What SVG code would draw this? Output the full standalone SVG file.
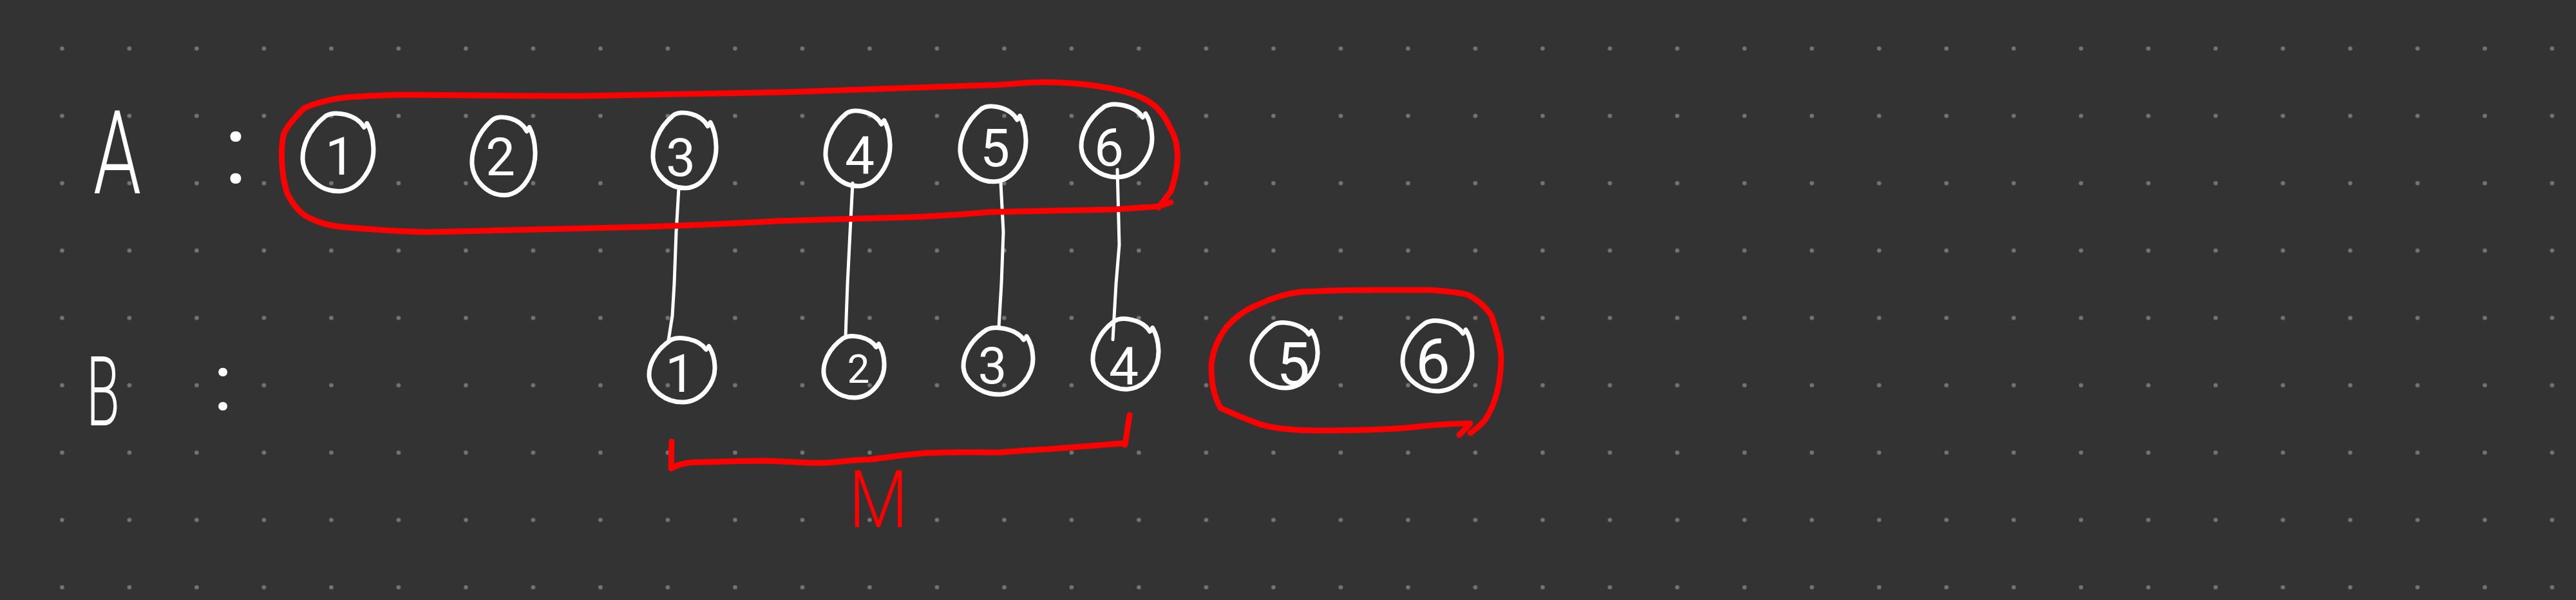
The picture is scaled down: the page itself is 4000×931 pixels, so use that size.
<svg xmlns="http://www.w3.org/2000/svg" xmlns:xlink="http://www.w3.org/1999/xlink" width="4000" height="931" viewBox="0 0 4000 931">
<style>
.bg{fill:#333333}
.node{fill:none;stroke:#ffffff;stroke-width:7;stroke-linecap:round;stroke-linejoin:round}
.lbl{fill:#ffffff;font-family:Roboto,"Liberation Sans",sans-serif;font-weight:400;text-anchor:middle}
.thin{font-weight:300}
.conn{fill:none;stroke:#ffffff;stroke-width:5;stroke-linecap:round;stroke-linejoin:round}
.red{fill:none;stroke:#ff0000;stroke-width:9;stroke-linecap:round;stroke-linejoin:round}
.redtxt{fill:#ff0000;font-family:Roboto,"Liberation Sans",sans-serif;font-weight:300;text-anchor:middle}
</style>
<defs>
<pattern id="grid" patternUnits="userSpaceOnUse" x="44.15" y="23.05" width="104.5" height="104.5">
<circle cx="52.25" cy="52.25" r="3.3" fill="#747474"/>
</pattern>
<path id="egg" vector-effect="non-scaling-stroke" d="M 0.72 -0.62 C 0.5 -0.95 -0.1 -1.05 -0.35 -0.9 C -0.85 -0.55 -1.0 -0.1 -0.98 0.2 C -0.95 0.6 -0.5 1.0 0.05 0.98 C 0.6 0.95 1.0 0.4 0.98 -0.1 C 0.97 -0.4 0.88 -0.6 0.8 -0.72"/>
</defs>
<rect class="bg" x="0" y="0" width="4000" height="931"/>
<rect x="0" y="0" width="4000" height="931" fill="url(#grid)"/>

<g id="labels">
<text class="lbl thin" x="182" y="300" font-size="180" textLength="74" lengthAdjust="spacingAndGlyphs">A</text>
<text class="lbl" x="366" y="284" font-size="150">:</text>
<text class="lbl thin" x="160" y="660" font-size="150" textLength="52" lengthAdjust="spacingAndGlyphs">B</text>
<text class="lbl" x="346" y="636" font-size="122">:</text>
</g>

<g id="connectors">
<path class="conn" d="M1054 292 L1050 360 L1047 440 L1044 490 L1038 528"/>
<path class="conn" d="M1324 284 L1320 360 L1316 440 L1313 522"/>
<path class="conn" d="M1554 284 L1558 360 L1555 440 L1551 507"/>
<path class="conn" d="M1735 263 L1738 380 L1733 440 L1728 527"/>
</g>

<g id="A1"><use href="#egg" class="node" transform="translate(525 236) scale(56 62)"/><text class="lbl" x="528" y="271" font-size="82">1</text></g>
<g id="A2"><use href="#egg" class="node" transform="translate(782 242) scale(50 62)"/><text class="lbl" x="777" y="272" font-size="82">2</text></g>
<g id="A3"><use href="#egg" class="node" transform="translate(1063 233) scale(50 60)"/><text class="lbl" x="1057" y="273" font-size="82">3</text></g>
<g id="A4"><use href="#egg" class="node" transform="translate(1332 230) scale(51 60)"/><text class="lbl" x="1335" y="270" font-size="82">4</text></g>
<g id="A5"><use href="#egg" class="node" transform="translate(1542 223) scale(52 60)"/><text class="lbl" x="1545" y="258" font-size="82">5</text></g>
<g id="A6"><use href="#egg" class="node" transform="translate(1734 218) scale(56 58)"/><text class="lbl" x="1722" y="257" font-size="82">6</text></g>

<g id="B1"><use href="#egg" class="node" transform="translate(1059 574) scale(52 51)"/><text class="lbl" x="1056" y="608" font-size="82">1</text></g>
<g id="B2"><use href="#egg" class="node" transform="translate(1326 569) scale(48 49)"/><text class="lbl" x="1333" y="594" font-size="62">2</text></g>
<g id="B3"><use href="#egg" class="node" transform="translate(1550 560) scale(55 53)"/><text class="lbl" x="1541" y="595" font-size="80">3</text></g>
<g id="B4"><use href="#egg" class="node" transform="translate(1748 549) scale(52 56)"/><text class="lbl" x="1745" y="597" font-size="82">4</text></g>
<g id="B5"><use href="#egg" class="node" transform="translate(1995 551) scale(52 52)"/><text class="lbl" x="2008" y="597" font-size="92">5</text></g>
<g id="B6"><use href="#egg" class="node" transform="translate(2232 552) scale(55 56)"/><text class="lbl" x="2225" y="594" font-size="96">6</text></g>

<g id="groupA">
<path class="red" d="M1799 322 L1818 297 C1830 262 1834 228 1818 200 C1805 172 1790 150 1729 138 C1690 130 1640 126 1602 128 C1565 130 1545 133 1538 132 C1420 136 1300 140 1219 143 C1100 145 1000 147 900 149 C800 149 650 147 631 147 C580 148 550 150 529 152 C505 156 490 160 472 168 C455 185 443 200 440 210 C436 230 436 270 446 300 C456 320 470 335 485 340 C505 350 525 352 542 353 C600 358 640 360 670 360 C760 358 860 355 1000 352 C1100 349 1150 346 1206 343 C1300 340 1360 338 1410 337 C1470 335 1500 332 1538 329 C1620 327 1690 326 1729 325 C1760 323 1790 321 1799 320 L1818 314"/>
</g>
<g id="groupB">
<path class="red" d="M2266 675 C2272 668 2282 660 2283 657 C2250 657 2220 660 2192 663 C2140 668 2090 668 2048 668 C2000 668 1970 663 1953 657 C1920 645 1900 635 1895 633 C1883 610 1881 590 1881 567 C1883 540 1895 520 1905 507 C1920 490 1935 480 1953 473 C1980 460 2000 455 2020 453 C2060 451 2100 450 2134 450 C2180 450 2200 450 2221 450 C2250 452 2270 455 2278 457 C2295 465 2308 478 2316 490 C2326 520 2331 540 2331 557 C2330 600 2320 630 2307 650 C2300 660 2290 667 2283 672"/>
</g>
<g id="bracketM">
<path class="red" stroke-width="10" d="M1043 685 L1042 727 C1055 719 1070 717 1091 717 C1130 716 1160 715 1187 715 C1230 716 1260 720 1283 718 C1310 716 1330 713 1350 713 C1390 708 1410 705 1436 703 C1490 701 1520 702 1551 702 C1580 700 1600 698 1627 697 C1680 693 1720 690 1742 688 L1747 690 L1754 644"/>
<text class="redtxt" x="1364" y="818" font-size="125" textLength="92" lengthAdjust="spacingAndGlyphs">M</text>
</g>
</svg>
